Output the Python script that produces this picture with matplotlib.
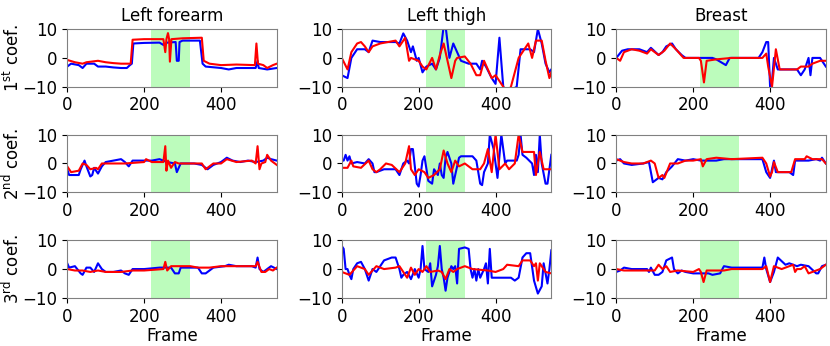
import matplotlib
matplotlib.use('Agg')
import matplotlib.pyplot as plt

titles = ["Left forearm", "Left thigh", "Breast"]
ylabels = [r"1$^{\rm st}$ coef.", r"2$^{\rm nd}$ coef.", r"3$^{\rm rd}$ coef."]
shade = (218, 320)

# (frame, value) breakpoints, [row][col]
blue = [
    [
        [(0, -3), (10, -2), (30, -2.5), (40, -3.5), (50, -2), (70, -2), (80, -3), (100, -3), (120, -3.3),
         (140, -3.5), (155, -3.5), (163, -2.5), (168, -2), (172, 5), (200, 5.2), (240, 5.3), (250, 4.5),
         (260, 5.3), (282, 5.5), (285, -1), (290, -1), (292, 5.5), (300, 6), (345, 6), (352, -2),
         (360, -3), (400, -3.5), (420, -4), (440, -3.5), (490, -3.5), (495, -1), (498, -3.5), (520, -4),
         (545, -3.5)],
        [(0, -6), (15, -7), (25, 0), (40, 3), (60, 3), (70, 2), (80, 6), (100, 5.5), (140, 5.5), (150, 5),
         (160, 8.5), (170, 6), (180, 2), (185, 4), (195, -1), (200, 0), (210, -5), (220, -3), (235, -2),
         (245, -4), (255, 0), (265, 11), (270, 11), (280, 0), (290, 5), (300, 2), (310, -1), (330, -2),
         (350, -2), (360, -4), (365, -1), (375, -3), (390, -7), (400, -9), (410, 7), (420, -10), (430, -12),
         (455, -10), (465, 3), (490, 3), (500, 2), (510, 10), (520, 5), (530, -2), (540, -5), (545, -4)],
        [(0, 0), (15, 2.5), (30, 3), (60, 3), (80, 2), (90, 3.5), (110, 1), (120, 2), (130, 4), (145, 5),
         (155, 3), (170, 1), (180, 0), (250, 0), (260, -0.5), (285, -2.5), (295, 0), (370, 0), (380, 2),
         (390, 5.5), (395, 5.5), (400, -10), (405, -8), (410, 0), (420, -4), (470, -4), (480, -6), (490, -4),
         (500, 0), (505, -6), (510, 0), (530, 0), (545, -3)],
    ],
    [
        [(0, -2), (5, -4), (30, -4), (35, -2), (45, 1), (50, -1), (60, -4.5), (65, -4), (70, -1.5), (80, -3.5),
         (90, -1), (100, 0.5), (120, 1), (140, 1.5), (150, 0.5), (160, -1), (170, 1), (220, 1), (240, 1.5),
         (260, 0.5), (280, 0), (285, -3), (295, 0), (330, 0), (350, -0.5), (365, -2), (380, -0.5), (400, 0.5),
         (415, 2), (430, 1), (450, 0.5), (470, 1), (490, 0.5), (510, 1), (520, 2), (530, 1.5), (545, 1)],
        [(0, 1), (5, 1), (10, 3), (15, 1), (20, 2.5), (25, 0), (40, 0.5), (60, 0), (70, 1.5), (80, 0), (85, -3),
         (90, -3), (100, -2.5), (110, -2), (140, -2), (150, -4), (160, 0), (170, 1), (175, 0), (180, 5),
         (185, 5), (190, -1), (195, -7), (200, -8), (205, -4), (210, 1), (215, 2.5), (225, -6), (235, -7),
         (240, -2), (245, -3), (250, -4), (255, 0), (260, -4), (265, -5), (270, 2), (275, 4), (285, 0),
         (290, -7), (295, -4), (305, 2), (310, 2.5), (340, 2.5), (350, 1), (360, -7), (365, -7.5), (370, -3),
         (380, 0), (385, 10), (395, 5), (405, -5), (415, 10), (425, 0), (430, 1), (455, 1), (460, 3),
         (465, 10), (470, 3), (480, 2), (495, 0), (500, -4), (505, 3), (510, -3), (515, 10), (520, 0),
         (530, -7), (535, -7), (545, 3)],
        [(0, 1), (10, 1.5), (20, 0), (40, -0.5), (70, 0), (85, 0.5), (95, -6.5), (110, -5), (120, -5.5),
         (130, -3), (145, -1), (160, 1.5), (180, 1), (200, 1.5), (220, 1), (260, 1), (280, 1.5), (380, 1.5),
         (390, -3), (400, -5), (410, 1), (415, -3), (450, -3), (460, -4), (465, 1), (500, 1), (520, 1.5),
         (530, 1), (535, 2), (545, 0)],
    ],
    [
        [(0, 2), (5, 0.5), (20, 1), (35, -1.5), (40, -2), (50, 0.5), (60, 0.5), (70, -1), (80, 2), (90, 0),
         (100, -1), (120, -1), (140, -0.5), (150, -1.5), (160, -2), (170, 0), (200, 0), (240, 0.5), (270, 0.5),
         (280, -1.5), (290, -1.5), (295, 0.5), (340, 0.5), (350, -1.5), (360, -1.5), (380, 0.5), (410, 1),
         (420, 1.5), (440, 1), (480, 1), (490, 0.5), (495, 4), (500, 0), (510, -1), (520, 0), (530, 1),
         (545, 0)],
        [(0, 8), (5, 7), (10, 0), (15, 0), (20, -2), (25, -3.5), (30, 0), (40, 2), (50, 2.5), (60, 0), (70, -4),
         (80, 0), (90, -1), (100, 1), (110, 3), (130, 4), (140, 4), (150, 0), (155, -3), (160, -2), (170, -1),
         (180, -3.5), (190, 0), (195, -1.5), (200, -3), (205, 0), (210, 8), (215, 0), (225, -1), (230, 2),
         (235, -6), (245, -2), (250, 1), (255, 8), (260, 0), (265, -3), (270, -7.5), (275, -3), (285, 1),
         (290, 0), (295, 1), (300, -5), (305, 7), (320, 7.5), (330, 7), (335, 0), (340, -3), (345, 0),
         (350, -4), (355, 0), (360, -3), (370, 0), (375, 2), (380, -5), (385, 7), (390, -3), (440, -3),
         (450, -4), (460, -3), (470, 4), (480, 5.5), (490, 5.5), (500, -4), (510, -8.5), (520, -6), (525, 2),
         (535, -5), (540, 0), (545, 6.5)],
        [(0, -1), (10, -0.5), (20, 0.5), (40, 0), (80, 0), (85, -1), (90, 0.5), (100, -2), (110, -2), (120, -1),
         (130, 3), (145, 4), (150, 0), (160, -1.5), (170, -0.5), (180, -1), (200, -1.5), (240, -1.5),
         (250, -2), (270, -1.5), (280, 1), (300, 0.5), (380, 0.5), (385, 4), (390, 0), (400, -4.5), (410, -1),
         (420, 4), (440, 1.5), (450, 2), (470, 1), (480, 1.5), (500, 1), (520, -1.5), (525, -1.5), (535, 1),
         (545, 1.5)],
    ],
]

red = [
    [
        [(0, -0.7), (20, -1.5), (40, -2), (50, -1.5), (80, -1), (100, -1.5), (120, -1.8), (140, -2), (165, -2),
         (170, 6.3), (200, 6.5), (250, 6.5), (255, 2), (258, 6.5), (262, 8.6), (265, 6.5), (267, -1.3),
         (271, 6.5), (300, 6.8), (350, 7), (355, -1), (370, -2), (400, -2.5), (440, -2.3), (488, -2.5),
         (492, 5), (496, -2), (510, -2.5), (520, -3.5), (535, -2.5), (545, -2)],
        [(0, 0), (15, -4), (25, 2), (40, 5), (50, 5.5), (60, 4), (70, 2), (80, 4), (100, 5), (140, 6),
         (150, 4), (165, 7), (175, -1), (180, 0), (200, -1), (210, -3), (220, -4), (235, 0), (245, -4),
         (255, 1), (265, 5), (275, -1), (285, -7), (295, -1), (300, 0), (320, 0.5), (335, -2), (350, -6),
         (360, -6), (370, -1), (380, -4), (390, -7), (400, -6), (420, -10), (430, -12), (440, -10), (460, 0),
         (475, 3), (485, 5), (495, 0), (505, 6), (520, 6), (530, -1), (540, -7), (545, -5)],
        [(0, 0), (10, -1), (20, 2), (40, 3), (60, 2.5), (80, 1.5), (90, 3), (110, 1), (125, 2.5), (140, 5),
         (155, 3), (175, 0), (215, 0), (220, -1), (228, -8.5), (235, -1), (260, -0.5), (300, 0), (380, 0),
         (390, 1.5), (395, -3), (405, -10), (415, 3), (425, -4), (470, -4), (480, -3), (500, -3), (510, -2),
         (530, -1), (545, -1)],
    ],
    [
        [(0, -1), (10, -3), (30, -2.5), (40, 0), (50, -0.5), (60, -2), (75, -1.5), (80, -2), (90, 0), (150, 0),
         (200, 0.5), (205, 1.5), (220, 0.5), (250, 0.5), (255, 6), (258, -2.5), (262, 1), (270, -1.5),
         (280, 0.5), (290, 0), (350, 0), (360, -2), (380, 0), (400, 0), (415, 1.5), (440, 0.5), (480, 1),
         (490, 0), (495, 6), (500, -2), (505, 0), (515, 0.5), (520, 3), (530, 1), (545, -0.5)],
        [(0, -1.5), (15, -1.5), (25, 1), (30, -1), (50, -1.5), (70, 1), (80, -2), (90, -3), (100, -2), (115, 0),
         (130, -0.5), (150, -3), (165, 0), (175, 6), (180, -2), (190, -4), (200, -2), (215, -3), (225, -5),
         (240, -4), (255, -2), (265, 4.5), (275, 0), (285, -3), (295, 1), (305, -1), (320, 0), (340, -2),
         (360, -2), (370, 0), (380, 5), (390, -3), (400, 10), (410, -2), (425, 0), (435, -2), (450, 0),
         (460, 10), (470, 4), (500, 4), (505, -4), (515, 4), (525, -2), (545, -2)],
        [(0, 1.5), (20, 0.5), (40, 0), (70, 0), (90, 1), (100, 0), (110, -5), (120, -4), (125, -5), (140, 0),
         (160, 0), (180, 1), (200, 1), (220, 1.5), (225, -1), (235, 1.5), (260, 2), (300, 1.5), (380, 2),
         (390, 0), (400, -4.5), (405, -3), (410, 0.5), (420, -3), (455, -3), (465, 1.5), (490, 1.5),
         (495, 2.5), (510, 1.5), (535, 1.5), (545, 0)],
    ],
    [
        [(0, 0), (20, -0.5), (40, -0.5), (60, -1), (80, -0.5), (100, -1), (140, -1), (170, -0.5), (200, -0.5),
         (250, 0), (255, 2.5), (260, -0.5), (270, 1), (320, 1), (340, 0.5), (370, 0.5), (400, 1), (490, 1),
         (495, 2.5), (505, -1), (515, -1), (525, 0), (535, -0.5), (545, 0.5)],
        [(0, -1), (20, -2), (40, 1), (60, 0), (70, -2), (90, 1), (110, 0), (140, 0.5), (150, 1), (160, -1),
         (170, -3), (180, 0.5), (190, -2), (200, 0), (210, -1), (220, 1), (230, -1), (250, -0.5), (260, -1),
         (270, -3.5), (280, 0), (290, -1), (300, 0), (320, 1), (340, 0), (380, -0.5), (400, -1), (420, 0),
         (430, 1.5), (460, 1), (470, 3), (490, 3), (500, 1), (505, 2), (510, -4), (515, 2), (530, -1),
         (545, -1.5)],
        [(0, 0), (20, -0.5), (100, -0.5), (110, 1.5), (120, 0), (130, 1), (140, -1), (160, -0.5), (200, -1),
         (215, 0), (220, -1), (227, -4.5), (235, -0.5), (280, -0.5), (300, 0), (380, 0), (390, 1),
         (400, -4.5), (410, 1), (430, 0), (460, 1.5), (465, -1), (470, 0), (480, 0), (490, 1), (500, -1.5),
         (520, -0.5), (530, 0), (545, 1.5)],
    ],
]

plt.rcParams['font.size'] = 12
fig, axes = plt.subplots(3, 3, figsize=(8.3, 3.46), dpi=100)
fig.subplots_adjust(left=0.081, right=0.995, top=0.916, bottom=0.139, wspace=0.31, hspace=0.83)

for r in range(3):
    for c in range(3):
        ax = axes[r, c]
        ax.axvspan(shade[0], shade[1], color='palegreen', alpha=0.65, lw=0, zorder=0)
        bx, by = zip(*blue[r][c])
        rx, ry = zip(*red[r][c])
        ax.plot(bx, by, color='blue', lw=1.5)
        ax.plot(rx, ry, color='red', lw=1.5)
        ax.set_xlim(0, 545)
        ax.set_ylim(-10, 10)
        ax.set_xticks([0, 200, 400])
        ax.set_yticks([-10, 0, 10])
        for s in ax.spines.values():
            s.set_color('gray')
        if r == 0:
            ax.set_title(titles[c], fontsize=12)
        if r == 2:
            ax.set_xlabel('Frame', labelpad=1)
        if c == 0:
            ax.set_ylabel(ylabels[r], labelpad=0)

fig.savefig('out.png', dpi=100)
